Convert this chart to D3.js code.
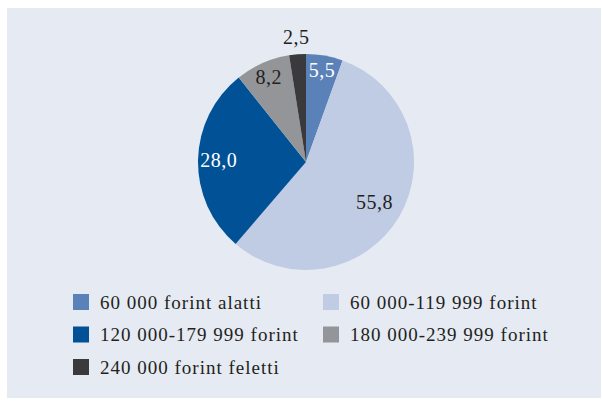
<!DOCTYPE html>
<html>
<head>
<meta charset="utf-8">
<script src="https://cdn.jsdelivr.net/npm/d3@7"></script>
<style>
  html, body { margin: 0; padding: 0; background: #ffffff; }
  svg { display: block; }
  text { font-family: "Liberation Serif", "DejaVu Serif", serif; fill: #231f20; }
</style>
</head>
<body>
<svg id="chart" width="602" height="402"></svg>
<script>
// Income bands and their shares (%)
const categories = [
  "60 000 forint alatti",
  "60 000-119 999 forint",
  "120 000-179 999 forint",
  "180 000-239 999 forint",
  "240 000 forint feletti"
];
const shares = [5.5, 55.8, 28.0, 8.2, 2.5];
const palette = ["#5b82b8", "#c0cce3", "#005196", "#939598", "#3a3a3c"];
const labelColors = ["#ffffff", "#231f20", "#ffffff", "#231f20", "#231f20"];

const svg = d3.select("#chart");
const W = 602, H = 402;

// panel background
svg.append("rect")
  .attr("x", 7).attr("y", 8)
  .attr("width", W - 8).attr("height", H - 12)
  .attr("fill", "#e5eaf3");

const data = categories.map((c, i) => ({ cat: c, value: shares[i], i }));

const cx = 306, cy = 162, R = 108;
const pie = d3.pie().value(d => d.value).sort(null);
const arc = d3.arc().innerRadius(0).outerRadius(R);
const color = d3.scaleOrdinal().domain(categories).range(palette);

const g = svg.append("g").attr("transform", `translate(${cx},${cy})`);
const arcs = pie(data);

g.selectAll("path.slice")
  .data(arcs)
  .join("path")
  .attr("class", "slice")
  .attr("d", arc)
  .attr("fill", d => color(d.data.cat));

// value labels: inside the slice (bigger slices pull the label inward),
// very thin slices get their label just outside the rim
const fmt = v => d3.format(".1f")(v).replace(".", ",");
const labelPos = d => {
  const r = d.data.value < 3 ? R + 17 : R * (0.88 - d.data.value * 0.0026);
  const p = d3.arc().innerRadius(r).outerRadius(r).centroid(d);
  return p;
};

g.selectAll("text.val")
  .data(arcs)
  .join("text")
  .attr("class", "val")
  .attr("transform", d => {
    const p = labelPos(d);
    return `translate(${p[0]},${p[1]})`;
  })
  .attr("text-anchor", "middle")
  .attr("dy", "0.35em")
  .style("font-size", "20px")
  .style("letter-spacing", "0.5px")
  .style("fill", d => labelColors[d.data.i])
  .text(d => fmt(d.data.value));

// legend in two columns
const legX = [73, 323], legY0 = 302, legStep = 32.5, sw = 16;
const leg = svg.append("g");
const items = leg.selectAll("g.item")
  .data(data)
  .join("g")
  .attr("class", "item")
  .attr("transform", (d, i) => `translate(${legX[i % 2]},${legY0 + Math.floor(i / 2) * legStep})`);

items.append("rect")
  .attr("x", 0).attr("y", -sw / 2)
  .attr("width", sw).attr("height", sw)
  .attr("fill", d => color(d.cat));

items.append("text")
  .attr("x", 27).attr("y", 0)
  .attr("dy", "0.35em")
  .style("font-size", "19px")
  .style("letter-spacing", "1px")
  .text(d => d.cat);
</script>
</body>
</html>
